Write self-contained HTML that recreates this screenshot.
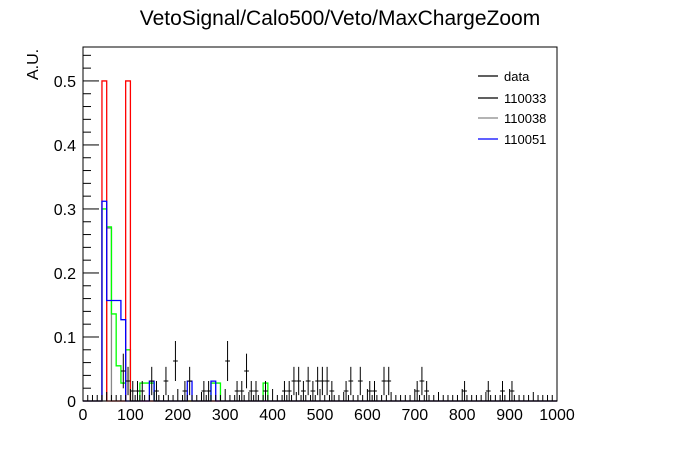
<!DOCTYPE html>
<html><head><meta charset="utf-8"><style>
body{margin:0;background:#fff}
svg{display:block;font-family:"Liberation Sans",sans-serif}
</style></head><body>
<svg id="c" width="696" height="472" viewBox="0 0 696 472">
<rect x="0" y="0" width="696" height="472" fill="#fff"/>
<text x="340" y="25" font-size="21" text-anchor="middle">VetoSignal/Calo500/Veto/MaxChargeZoom</text>
<text transform="translate(38,80) rotate(-90)" font-size="16" text-anchor="start">A.U.</text>
<g id="plot"></g>
<g id="legend"></g>
</svg>
<script>
const dataBins = [8,9,10,11,12,14,15,17,19,21,22,25,26,30,32,33,34,35,36,38,42,43,44,45,46,47,48,49,50,51,52,55,56,58,60,61,63,64,70,71,72,80,85,88,90];
const dataCounts = [3,2,1,1,1,2,1,2,4,1,2,1,1,4,1,1,3,1,1,1,1,1,2,2,1,2,1,2,2,2,1,1,2,2,1,1,2,2,1,2,1,1,1,1,1];
const redBins = [4,9];
const redVals = [0.5,0.5];
const blueBins = [4,5,6,7,8,14,22,27];
const blueVals = [0.312,0.157,0.157,0.157,0.127,0.031,0.031,0.031];
const greenBins = [4,5,6,7,8,9,12,13,14,27,28,38];
const greenVals = [0.30,0.272,0.136,0.055,0.028,0.08,0.028,0.028,0.028,0.028,0.028,0.028];
const greyBins = [5];
const greyVals = [0.27];
const xTicks = [0,100,200,300,400,500,600,700,800,900,1000];
const yTicks = [0,0.1,0.2,0.3,0.4,0.5];
const legendLabels = ["data","110033","110038","110051"];
const legendColors = ["#000","#000","#888","#00f"];

const NS="http://www.w3.org/2000/svg";
const X0=83,X1=557,Y0=401,Y1=47,YMAX=0.553,BW=10;
const sx=v=>X0+(v/1000)*(X1-X0);
const sy=v=>Y0-(v/YMAX)*(Y0-Y1);
const plot=document.getElementById('plot');
function mk(tag,attrs,parent){const e=document.createElementNS(NS,tag);for(const k in attrs)e.setAttribute(k,attrs[k]);(parent||plot).appendChild(e);return e;}

function hist(bins,vals,color,name){
  const full=new Array(100).fill(0);
  bins.forEach((b,i)=>full[b]=vals[i]);
  let d=`M${sx(0)},${sy(0)}`;
  for(let i=0;i<100;i++){d+=` L${sx(i*BW)},${sy(full[i])} L${sx((i+1)*BW)},${sy(full[i])}`;}
  d+=` L${sx(1000)},${sy(0)}`;
  const p=mk('path',{d:d,fill:'none',stroke:color,'stroke-width':1.3});
  
  
}
hist(greyBins,greyVals,'#888','histogram-110038');
hist(greenBins,greenVals,'#0f0','histogram-green');
hist(redBins,redVals,'#f00','histogram-red');
hist(blueBins,blueVals,'#00f','histogram-110051');

dataBins.forEach((b,i)=>{
  const n=dataCounts[i],v=n/64,e=Math.sqrt(n)/64,cx=sx(b*BW+BW/2);
  const g=mk('g',{});
  
  
  mk('line',{x1:sx(b*BW),x2:sx((b+1)*BW),y1:sy(v),y2:sy(v),stroke:'#000','stroke-width':1},g);
  mk('line',{x1:cx,x2:cx,y1:sy(v+e),y2:sy(Math.max(0,v-e)),stroke:'#000','stroke-width':1},g);
});

const fr=mk('rect',{x:X0,y:Y1,width:X1-X0,height:Y0-Y1,fill:'none',stroke:'#000','stroke-width':1});


for(let v=0;v<=1000;v+=10){
  const len=v%100===0?12:(v%50===0?9:6);
  mk('line',{x1:sx(v),x2:sx(v),y1:Y0,y2:Y0-len,stroke:'#000','stroke-width':1});
}
xTicks.forEach(v=>{
  const t=mk('text',{x:sx(v),y:Y0+19,'font-size':16,'text-anchor':'middle'});
  t.textContent=v;
  
  
});
for(let k=0;k<=55;k+=2){
  const v=k/100,len=k%10===0?16:8;
  mk('line',{x1:X0,x2:X0+len,y1:sy(v),y2:sy(v),stroke:'#000','stroke-width':1});
}
yTicks.forEach(v=>{
  const t=mk('text',{x:X0-7,y:sy(v)+6,'font-size':16,'text-anchor':'end'});
  t.textContent=v===0?'0':v.toFixed(1);
  
  
});
const lg=document.getElementById('legend');
const ly=[76,98,118,139];
legendLabels.forEach((l,i)=>{
  const g=mk('g',{},lg);
  
  
  mk('line',{x1:478,x2:498,y1:ly[i],y2:ly[i],stroke:legendColors[i],'stroke-width':1.2},g);
  const t=mk('text',{x:504,y:ly[i]+5,'font-size':13},g);
  t.textContent=l;
});
</script>
</body></html>
